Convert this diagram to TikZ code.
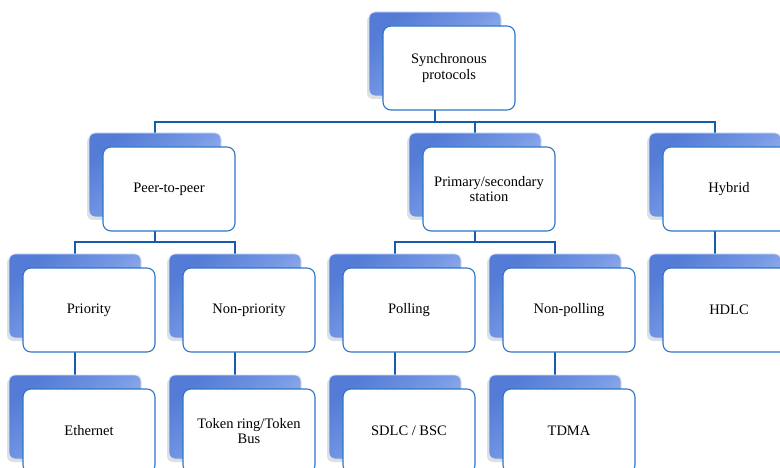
\documentclass[tikz,border=0pt]{standalone}
\usepackage{fontspec}
\setmainfont{Liberation Serif}
\usetikzlibrary{shadows}

\definecolor{linkblue}{RGB}{22,92,170}
\definecolor{frameblue}{RGB}{46,118,200}
\definecolor{shadeA}{RGB}{84,124,214}
\definecolor{shadeB}{RGB}{118,152,228}
\definecolor{shadeC}{RGB}{170,192,242}

\pgfdeclarelayer{bg}
\pgfsetlayers{bg,main}

\tikzset{
  frontcard/.style={draw=frameblue, line width=1.1pt, fill=white,
    rounded corners=8pt, minimum width=132pt, minimum height=84pt,
    inner sep=0pt, align=center, text=black,
    font=\fontsize{14.5}{15.5}\selectfont},
  backcard/.style={rounded corners=6pt, minimum width=132pt, minimum height=84pt,
    inner sep=0pt, top color=shadeA, bottom color=shadeC, middle color=shadeB,
    shading angle=40, draw=shadeC!50!white, line width=0.9pt,
    drop shadow={shadow xshift=-2pt, shadow yshift=-3pt, opacity=0.2, fill=black!60}},
  link/.style={draw=linkblue, line width=2.3pt}
}

% a card: shaded back plate plus white front box; #2,#3 = left/top of the front box
\newcommand\orgcard[4]{%
  \node[backcard] (#1-b) at (#2+52,#3+28) {};
  \node[frontcard] (#1) at (#2+66,#3+42) {#4};
}

\begin{document}
\begin{tikzpicture}[x=1pt,y=-1pt]
  \useasboundingbox (0,0) rectangle (780,468);

  \orgcard{sync}{383}{26}{Synchronous\\protocols}

  \orgcard{peer}{103}{147}{Peer-to-peer}
  \orgcard{prim}{423}{147}{Primary/secondary\\station}
  \orgcard{hyb}{663}{147}{Hybrid}

  \orgcard{prio}{23}{268}{Priority}
  \orgcard{nonprio}{183}{268}{Non-priority}
  \orgcard{poll}{343}{268}{Polling}
  \orgcard{nonpoll}{503}{268}{Non-polling}
  \orgcard{hdlc}{663}{268}{HDLC}

  \orgcard{eth}{23}{389}{Ethernet}
  \orgcard{token}{183}{389}{Token ring/Token\\Bus}
  \orgcard{sdlc}{343}{389}{SDLC / BSC}
  \orgcard{tdma}{503}{389}{TDMA}

  \coordinate (bar1) at (0,122);
  \coordinate (bar2) at (0,242);

  % connectors sit behind the cards
  \begin{pgfonlayer}{bg}
    \fill[white] (0,0) rectangle (780,468);
    \foreach \c in {peer,prim,hyb}
      \draw[link] (sync-b.center) -- (sync-b.center |- bar1) -| (\c-b.center);
    \foreach \c in {prio,nonprio}
      \draw[link] (peer-b.center) -- (peer-b.center |- bar2) -| (\c-b.center);
    \foreach \c in {poll,nonpoll}
      \draw[link] (prim-b.center) -- (prim-b.center |- bar2) -| (\c-b.center);
    \draw[link] (hyb-b.center) -- (hdlc-b.center);
    \draw[link] (prio-b.center) -- (eth-b.center);
    \draw[link] (nonprio-b.center) -- (token-b.center);
    \draw[link] (poll-b.center) -- (sdlc-b.center);
    \draw[link] (nonpoll-b.center) -- (tdma-b.center);
  \end{pgfonlayer}
\end{tikzpicture}
\end{document}
